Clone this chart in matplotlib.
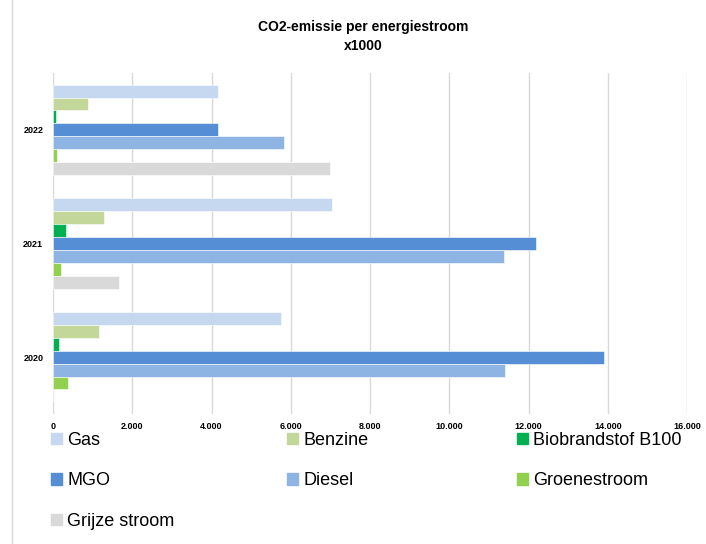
"""CO2-emissie per energiestroom - grouped horizontal bar chart"""
import matplotlib
matplotlib.use("Agg")
import matplotlib.pyplot as plt
import matplotlib.patches as mpatches
from matplotlib.lines import Line2D
import numpy as np

years = ["2020", "2021", "2022"]
series = ["Gas", "Benzine", "Biobrandstof B100", "MGO", "Diesel", "Groenestroom", "Grijze stroom"]
gas = [5760, 7050, 4160]
benzine = [1170, 1290, 890]
biobrandstof = [140, 320, 70]
mgo = [13900, 12190, 4160]
diesel = [11410, 11380, 5840]
groenestroom = [370, 210, 90]
grijze_stroom = [0, 1670, 6990]
x_ticks = [0, 2000, 4000, 6000, 8000, 10000, 12000, 14000, 16000]

values = [gas, benzine, biobrandstof, mgo, diesel, groenestroom, grijze_stroom]
colors = ["#C5D8F0", "#C4D79B", "#00B050", "#558ED5", "#8DB4E2", "#92D050", "#D9D9D9"]

plt.rcParams['font.family'] = ['Liberation Sans', 'DejaVu Sans']

fig = plt.figure(figsize=(7.06, 5.44), dpi=100)
ax = fig.add_axes([53 / 706, 1 - 414 / 544, (687 - 53) / 706, (414 - 73) / 544])

y = np.arange(len(years))
h = 0.1134
n = len(series)
for i, (name, vals, col) in enumerate(zip(series, values, colors)):
    # first series on top of each group, like Excel
    offset = ((n - 1) / 2 - i) * h
    ax.barh(y + offset, vals, height=h, color=col, edgecolor="white", linewidth=0.4, label=name)

ax.set_xlim(0, 16000)
ax.set_ylim(-0.5, len(years) - 0.5)
ax.set_xticks(x_ticks)
ax.set_xticklabels([f"{v:,.0f}".replace(",", ".") for v in x_ticks], fontsize=6.5, fontweight="bold")
ax.set_yticks(y)
ax.set_yticklabels(years, fontsize=6.5, fontweight="bold")
ax.tick_params(length=0)
ax.tick_params(axis="x", pad=6)
ax.tick_params(axis="y", pad=7)
ax.grid(axis="x", color="#D9D9D9", linewidth=1)
ax.set_axisbelow(True)
for s in ax.spines.values():
    s.set_visible(False)

fig.text(363 / 706, 1 - 36.5 / 544, "CO2-emissie per energiestroom\nx1000",
         ha="center", va="center", fontsize=10, fontweight="bold", linespacing=1.45)

# chart border on the left
fig.add_artist(Line2D([12 / 706, 12 / 706], [0, 1], color="#D9D9D9", linewidth=1))

# legend: three columns of equal width, as in Excel
handles = [mpatches.Patch(color=c) for c in colors]
columns = [[0, 3, 6], [1, 4], [2, 5]]
col_x = [51, 287, 517]
for idx, cx in zip(columns, col_x):
    fig.legend([handles[k] for k in idx], [series[k] for k in idx],
               loc="upper left", bbox_to_anchor=(cx / 706, 1 - 432 / 544),
               frameon=False, fontsize=13, borderpad=0, borderaxespad=0,
               handlelength=0.6, handleheight=0.6, handletextpad=0.3, labelspacing=1.3)

plt.savefig("out.png", dpi=100)
plt.close()
